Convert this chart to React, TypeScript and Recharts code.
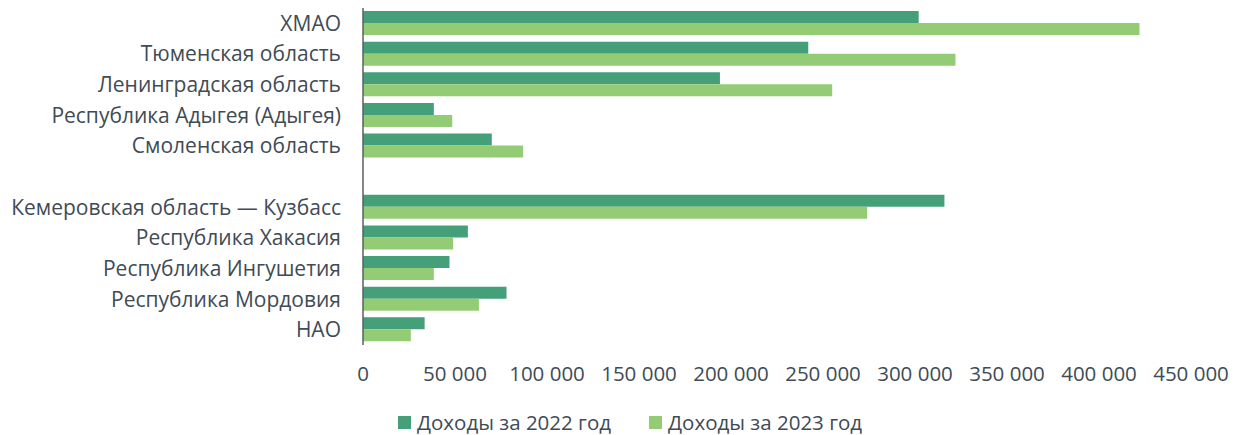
import { BarChart, Bar, XAxis, YAxis, Legend } from 'recharts';

const regions = [
  'ХМАО',
  'Тюменская область',
  'Ленинградская область',
  'Республика Адыгея (Адыгея)',
  'Смоленская область',
  '',
  'Кемеровская область — Кузбасс',
  'Республика Хакасия',
  'Республика Ингушетия',
  'Республика Мордовия',
  'НАО',
];

const income2022 = [302000, 242000, 194000, 38500, 70000, null, 316000, 57000, 47000, 78000, 33500];
const income2023 = [422000, 322000, 255000, 48500, 87000, null, 274000, 49000, 38500, 63000, 26000];

const xTicks = [0, 50000, 100000, 150000, 200000, 250000, 300000, 350000, 400000, 450000];

const data = regions.map((name, i) => ({
  name,
  y2022: income2022[i],
  y2023: income2023[i],
}));

const DARK = '#45a07a';
const LIGHT = '#93cc74';
const TEXT = '#404b55';
const FONT = '"Open Sans", sans-serif';

const fmt = (v: number) => (v === 0 ? '0' : v.toLocaleString('ru-RU').replace(/\s/g, ' '));

function LegendBox() {
  const items = [
    { label: 'Доходы за 2022 год', color: DARK },
    { label: 'Доходы за 2023 год', color: LIGHT },
  ];
  return (
    <div
      style={{
        display: 'flex',
        justifyContent: 'flex-start',
        alignItems: 'center',
        paddingLeft: 398,
        gap: 38,
        height: 26,
        fontFamily: FONT,
        fontSize: 20.5,
        color: TEXT,
        lineHeight: '26px',
      }}
    >
      {items.map((it) => (
        <div key={it.label} style={{ display: 'flex', alignItems: 'center' }}>
          <span style={{ width: 13, height: 13, background: it.color, marginRight: 6, display: 'inline-block' }} />
          <span>{it.label}</span>
        </div>
      ))}
    </div>
  );
}

export default function App() {
  return (
    <div style={{ position: 'absolute', left: 0, top: 0, background: '#fff' }}>
      <BarChart
        width={1239}
        height={435}
        data={data}
        layout="vertical"
        margin={{ top: 8, right: 48, bottom: 0, left: 0 }}
        barGap={0}
        barSize={12}
      >
        <XAxis
          type="number"
          domain={[0, 450000]}
          ticks={xTicks}
          tickFormatter={fmt}
          axisLine={false}
          tickLine={false}
          tickSize={0}
          tickMargin={21}
          height={64}
          interval={0}
          tick={{ fill: TEXT, fontSize: 20.5, fontFamily: FONT }}
        />
        <YAxis
          type="category"
          dataKey="name"
          width={363}
          interval={0}
          tickLine={false}
          tickSize={0}
          tickMargin={22}
          axisLine={{ stroke: '#5a5f63', strokeWidth: 1.5 }}
          tick={{ fill: TEXT, fontSize: 21, fontFamily: FONT }}
        />
        <Legend verticalAlign="bottom" height={26} content={() => <LegendBox />} />
        <Bar dataKey="y2022" fill={DARK} isAnimationActive={false} />
        <Bar dataKey="y2023" fill={LIGHT} isAnimationActive={false} />
      </BarChart>
    </div>
  );
}
